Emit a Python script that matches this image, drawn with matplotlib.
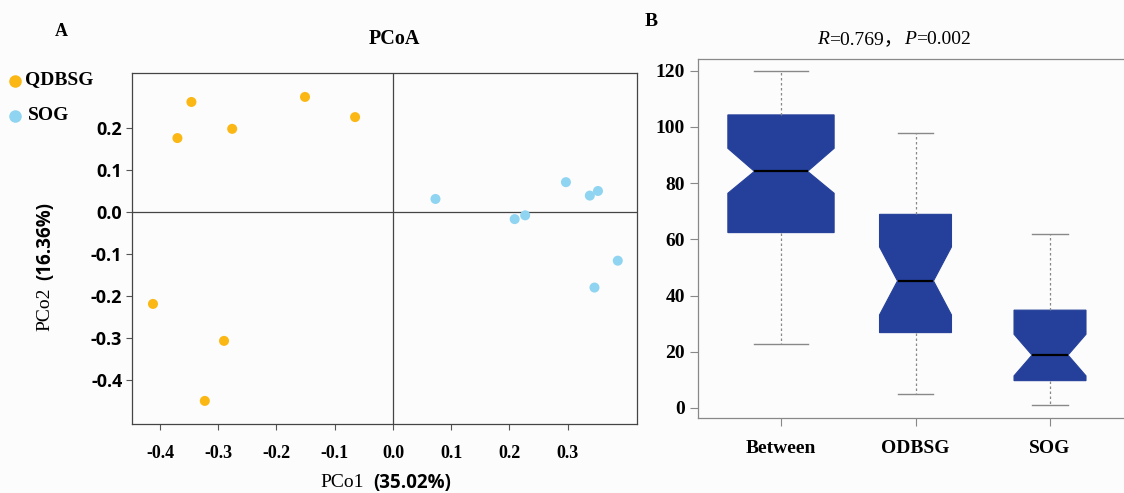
import numpy as np
import matplotlib
matplotlib.use("Agg")
from matplotlib import pyplot as plt
from matplotlib.offsetbox import TextArea, HPacker, AnchoredOffsetbox

plt.rcParams["font.family"] = ["Liberation Serif", "Noto Sans CJK SC"]

# PCoA scores
qdbsg_x = [-0.370, -0.346, -0.276, -0.151, -0.065, -0.412, -0.290, -0.323]
qdbsg_y = [0.176, 0.262, 0.198, 0.274, 0.226, -0.219, -0.307, -0.450]
sog_x = [0.073, 0.209, 0.227, 0.297, 0.338, 0.352, 0.386, 0.346]
sog_y = [0.031, -0.017, -0.008, 0.071, 0.039, 0.050, -0.116, -0.180]

# boxplot summary
groups = ["Between", "ODBSG", "SOG"]
whis_lo = [22.7, 4.8, 1.0]
q1 = [62.4, 26.8, 9.7]
median = [84.2, 45.2, 18.8]
q3 = [104.3, 68.9, 34.8]
whis_hi = [119.8, 97.8, 61.8]
notch_lo = [76.4, 33.1, 11.4]
notch_hi = [92.4, 57.3, 26.2]
box_widths = [0.79, 0.535, 0.535]

bg = "#fcfcfc"
orange = "#fbb714"
skyblue = "#8fd4f0"
navy = "#25409a"
sans = ["Open Sans", "DejaVu Sans"]

fig = plt.figure(figsize=(11.24, 4.93), dpi=100, facecolor=bg)

# ---------------- panel A ----------------
ax1 = fig.add_axes([132 / 1124, 1 - 424 / 493, 505 / 1124, 351 / 493])
ax1.set_facecolor(bg)
ax1.scatter(qdbsg_x, qdbsg_y, s=52, color=orange, edgecolors="none", zorder=3)
ax1.scatter(sog_x, sog_y, s=52, color=skyblue, edgecolors="none", zorder=3)
ax1.axhline(0, color="#444444", lw=0.9, zorder=1)
ax1.axvline(0, color="#444444", lw=0.9, zorder=1)
ax1.set_xlim(-0.448, 0.419)
ax1.set_ylim(-0.505, 0.331)
ax1.set_xticks([-0.4, -0.3, -0.2, -0.1, 0.0, 0.1, 0.2, 0.3])
ax1.set_xticklabels(["%.1f" % v for v in ax1.get_xticks()],
                    fontsize=13, fontweight="bold", family="Liberation Serif")
ax1.set_yticks([0.2, 0.1, 0.0, -0.1, -0.2, -0.3, -0.4])
ax1.set_yticklabels(["%.1f" % v for v in ax1.get_yticks()],
                    fontsize=13, fontweight="bold", family=sans)
for sp in ax1.spines.values():
    sp.set_color("#444444")
    sp.set_linewidth(0.9)
ax1.tick_params(colors="#555555", length=4, width=0.8, labelcolor="black")
ax1.tick_params(axis="x", pad=11)
ax1.tick_params(axis="y", pad=3)

ax1.text(0.46, -0.168, "PCo1", transform=ax1.transAxes, ha="right", va="center",
         fontsize=14, family="Liberation Serif")
ax1.text(0.478, -0.168, "(35.02%)", transform=ax1.transAxes, ha="left", va="center",
         fontsize=13.5, fontweight="bold", family=sans)
ax1.text(-0.172, 0.39, "PCo2", transform=ax1.transAxes, ha="right", va="center",
         rotation=90, rotation_mode="anchor", fontsize=14, family="Liberation Serif")
ax1.text(-0.172, 0.41, "(16.36%)", transform=ax1.transAxes, ha="left", va="center",
         rotation=90, rotation_mode="anchor", fontsize=13.5, fontweight="bold",
         family=sans)

fig.text(394 / 1124, 1 - 39 / 493, "PCoA", ha="center", va="center",
         fontsize=14.5, fontweight="bold")
fig.text(61 / 1124, 1 - 31 / 493, "A", ha="center", va="center",
         fontsize=13, fontweight="bold")

# legend drawn as dots plus labels outside the axes
fig.add_artist(plt.Line2D([15 / 1124], [1 - 81 / 493], marker="o", ms=8,
                          color=orange, ls="none"))
fig.add_artist(plt.Line2D([15 / 1124], [1 - 116 / 493], marker="o", ms=8,
                          color=skyblue, ls="none"))
fig.text(25 / 1124, 1 - 80 / 493, "QDBSG", ha="left", va="center",
         fontsize=14, fontweight="bold")
fig.text(28 / 1124, 1 - 116 / 493, "SOG", ha="left", va="center",
         fontsize=14, fontweight="bold")

# ---------------- panel B ----------------
ax2 = fig.add_axes([698 / 1124, 1 - 418 / 493, 435 / 1124, 359 / 493])
ax2.set_facecolor(bg)
stats = []
for i, name in enumerate(groups):
    stats.append(dict(label=name, whislo=whis_lo[i], q1=q1[i], med=median[i],
                      q3=q3[i], whishi=whis_hi[i], cilo=notch_lo[i],
                      cihi=notch_hi[i], fliers=[]))
ax2.bxp(stats, positions=[1, 2, 3], widths=box_widths,
        capwidths=[w * 0.5 for w in box_widths], shownotches=True,
        patch_artist=True, showfliers=False,
        boxprops=dict(facecolor=navy, edgecolor=navy, linewidth=0.8),
        medianprops=dict(color="black", linewidth=1.6),
        whiskerprops=dict(color="#888888", linestyle=(0, (2, 2)), linewidth=0.9),
        capprops=dict(color="#888888", linewidth=1.0))
ax2.set_xlim(0.383, 3.617)
ax2.set_ylim(-3.6, 124.2)
ax2.set_yticks([0, 20, 40, 60, 80, 100, 120])
for lab in ax2.get_yticklabels():
    lab.set_fontsize(14)
    lab.set_fontweight("bold")
for lab in ax2.get_xticklabels():
    lab.set_fontsize(14)
    lab.set_fontweight("bold")
for sp in ax2.spines.values():
    sp.set_color("#888888")
    sp.set_linewidth(0.9)
ax2.tick_params(colors="#888888", length=6, width=0.8, labelcolor="black")
ax2.tick_params(axis="x", pad=10)

# "R=0.769，P=0.002" with italic R and P, packed piece by piece
parts = [("R", "italic"), ("=0.769，", "normal"), ("P", "italic"), ("=0.002", "normal")]
areas = [TextArea(t, textprops=dict(fontsize=14, fontstyle=st,
                                    family=["Liberation Serif", "Noto Sans CJK SC"]))
         for t, st in parts]
title_box = AnchoredOffsetbox(loc="center", child=HPacker(children=areas, pad=0, sep=0),
                              frameon=False, pad=0, borderpad=0,
                              bbox_to_anchor=(894 / 1124, 1 - 40 / 493),
                              bbox_transform=fig.transFigure)
fig.add_artist(title_box)
fig.text(651 / 1124, 1 - 21 / 493, "B", ha="center", va="center",
         fontsize=14, fontweight="bold")

fig.savefig("out.png", dpi=100, facecolor=bg)
